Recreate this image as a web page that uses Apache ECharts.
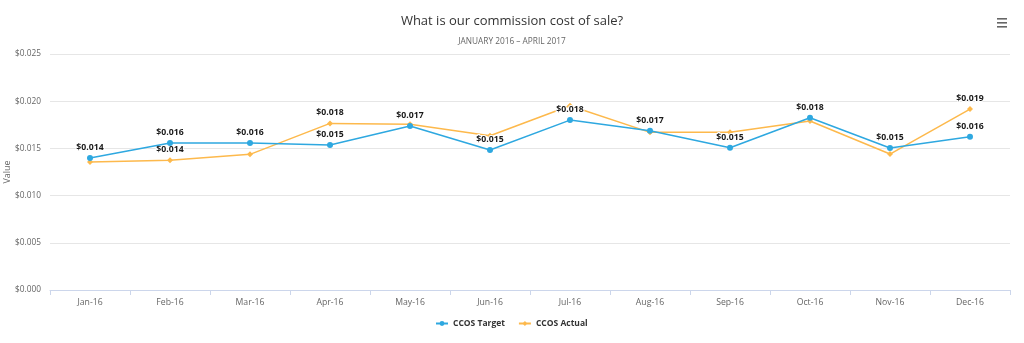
<!DOCTYPE html>
<html>
<head>
<meta charset="utf-8">
<script src="https://cdn.jsdelivr.net/npm/echarts@6/dist/echarts.min.js"></script>
<style>html,body{margin:0;padding:0;background:#fff}#c{width:1024px;height:343px}</style>
</head>
<body>
<div id="c"></div>
<script>
var categories = ['Jan-16','Feb-16','Mar-16','Apr-16','May-16','Jun-16','Jul-16','Aug-16','Sep-16','Oct-16','Nov-16','Dec-16'];
var targetValues = [0.01398,0.01557,0.01557,0.01536,0.01737,0.01483,0.01800,0.01686,0.01507,0.01825,0.01504,0.01624];
var actualValues = [0.01356,0.01374,0.01437,0.01765,0.01755,0.01634,0.01952,0.01670,0.01670,0.01790,0.01440,0.01917];
var targetLabelShown = [true,true,true,true,true,true,true,true,true,true,true,true];
var actualLabelShown = [false,true,false,true,false,false,false,false,false,false,false,true];
var yTicks = {min: 0, max: 0.025, interval: 0.005};

var FONT = 'Open Sans';
function fmt(v){ return '$' + v.toFixed(3); }
function build(values, shown){
  return values.map(function(v,i){ return {value: v, label: {show: shown[i]}}; });
}
var labelStyle = {
  show: true, position: 'top', distance: 3,
  fontFamily: FONT, fontSize: 8.7, fontWeight: 'bold', color: '#1a1a1a',
  textBorderColor: '#fff', textBorderWidth: 2,
  formatter: function(p){ return fmt(p.value); }
};

var chart = echarts.init(document.getElementById('c'), null, {renderer: 'canvas'});
chart.setOption({
  animation: false,
  textStyle: {fontFamily: FONT},
  title: {
    text: 'What is our commission cost of sale?',
    subtext: 'JANUARY 2016 – APRIL 2017',
    left: 'center', top: 10, itemGap: 10,
    textStyle: {fontFamily: FONT, fontSize: 13, fontWeight: 'normal', color: '#333'},
    subtextStyle: {fontFamily: FONT, fontSize: 8.3, color: '#666'}
  },
  legend: {
    top: 314, left: 430, itemWidth: 12, itemHeight: 6, itemGap: 13,
    textStyle: {fontFamily: FONT, fontSize: 8.5, fontWeight: 'bold', color: '#333'},
    data: ['CCOS Target','CCOS Actual']
  },
  grid: {left: 50, right: 14, top: 54, bottom: 53, containLabel: false, outerBoundsMode: 'none'},
  xAxis: {
    type: 'category', data: categories, boundaryGap: true,
    axisLine: {lineStyle: {color: '#ccd6eb'}},
    axisTick: {show: true, length: 5, lineStyle: {color: '#ccd6eb'}},
    axisLabel: {fontFamily: FONT, fontSize: 8.7, color: '#666', margin: 8},
    splitLine: {show: false}
  },
  yAxis: {
    type: 'value', min: yTicks.min, max: yTicks.max, interval: yTicks.interval,
    name: 'Value', nameLocation: 'middle', nameRotate: 90, nameGap: 38, nameMoveOverlap: false,
    nameTextStyle: {fontFamily: FONT, fontSize: 9, color: '#666'},
    axisLine: {show: false}, axisTick: {show: false},
    axisLabel: {fontFamily: FONT, fontSize: 8.3, color: '#666', margin: 9, formatter: function(v){ return fmt(v); }},
    splitLine: {lineStyle: {color: '#e6e6e6'}}
  },
  graphic: [
    {type: 'rect', right: 17, top: 18, shape: {width: 10, height: 1.6}, style: {fill: '#666'}},
    {type: 'rect', right: 17, top: 22, shape: {width: 10, height: 1.6}, style: {fill: '#666'}},
    {type: 'rect', right: 17, top: 26, shape: {width: 10, height: 1.6}, style: {fill: '#666'}}
  ],
  series: [
    {
      name: 'CCOS Target', type: 'line', data: build(targetValues, targetLabelShown),
      symbol: 'circle', symbolSize: 6, showAllSymbol: true,
      itemStyle: {color: '#2ea8e0'}, lineStyle: {width: 1.5, color: '#2ea8e0'},
      label: labelStyle, z: 3
    },
    {
      name: 'CCOS Actual', type: 'line', data: build(actualValues, actualLabelShown),
      symbol: 'diamond', symbolSize: 6, showAllSymbol: true,
      itemStyle: {color: '#fdb94c'}, lineStyle: {width: 1.5, color: '#fdb94c'},
      label: labelStyle, z: 2
    }
  ]
});
</script>
</body>
</html>
